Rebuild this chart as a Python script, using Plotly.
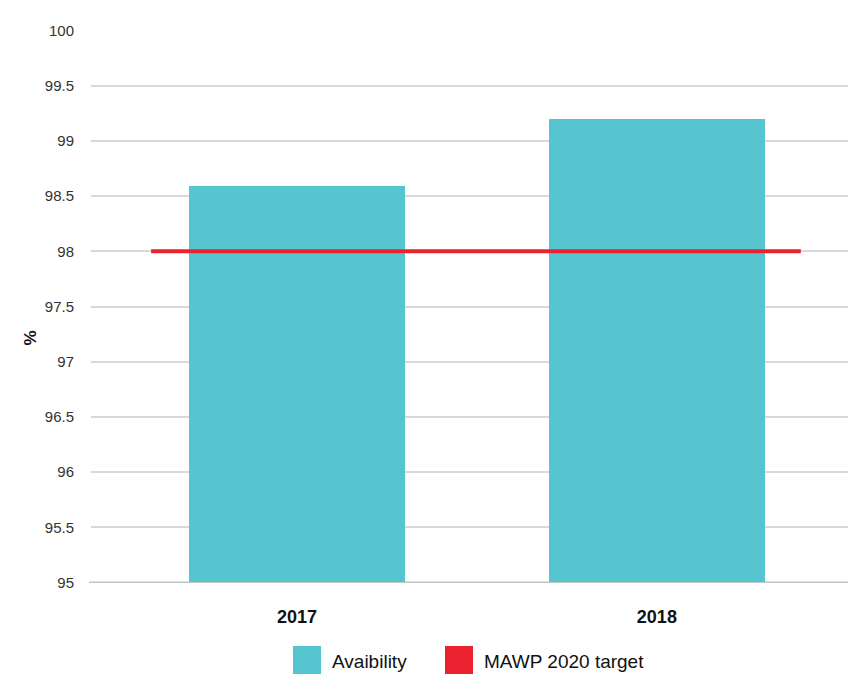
"""Availability bar chart with MAWP 2020 target line"""

import plotly.graph_objects as go

years = ["2017", "2018"]
availability = [98.59, 99.2]
target = 98.0
y_ticks = [95, 95.5, 96, 96.5, 97, 97.5, 98, 98.5, 99, 99.5, 100]
y_tick_labels = ["95", "95.5", "96", "96.5", "97", "97.5", "98", "98.5", "99", "99.5", "100"]
legend_names = ["Avaibility", "MAWP 2020 target"]

BAR_COLOR = "#56c5cf"
TARGET_COLOR = "#ec2130"
FONT = "Liberation Sans, Arial, sans-serif"

W, H = 848, 675
L, R, T, B = 91, 0, 30, 675 - 583
pos = list(range(len(years)))


def px_x(x):
    # window pixel -> paper coordinate (horizontal)
    return (x - L) / (W - L - R)


def px_y(y):
    return (H - B - y) / (H - T - B)


fig = go.Figure()

fig.add_trace(go.Bar(
    x=pos, y=[v - 95 for v in availability], base=95,
    width=0.6, name=legend_names[0], showlegend=False,
    marker=dict(color=BAR_COLOR, line=dict(width=0)),
))

# target line stretches a bit past the bars on each side
fig.add_trace(go.Scatter(
    x=[pos[0] - 0.405, pos[-1] + 0.4], y=[target, target],
    mode="lines", name=legend_names[1], showlegend=False,
    line=dict(color=TARGET_COLOR, width=4),
))

# baseline at the bottom of the y range
fig.add_shape(type="line", xref="paper", yref="y", x0=px_x(89), x1=1, y0=95, y1=95,
              line=dict(color="#c4c4c4", width=2), layer="below")

# y axis title
fig.add_annotation(text="<b>%</b>", textangle=-90, xref="paper", yref="paper",
                   x=px_x(18), y=px_y(338), showarrow=False,
                   font=dict(size=17, color="#111", family=FONT))

# legend drawn by hand so both entries get big squares
legend_items = [(293, legend_names[0], BAR_COLOR), (445, legend_names[1], TARGET_COLOR)]
for x0, name, color in legend_items:
    fig.add_shape(type="rect", xref="paper", yref="paper",
                  x0=px_x(x0), x1=px_x(x0 + 28), y0=px_y(646), y1=px_y(674),
                  fillcolor=color, line=dict(width=0))
    fig.add_annotation(text=name, xref="paper", yref="paper",
                       x=px_x(x0 + 37), y=px_y(661), xanchor="left", yanchor="middle",
                       showarrow=False, font=dict(size=19, color="#111", family=FONT))

fig.update_layout(
    width=W, height=H,
    margin=dict(l=L, r=R, t=T, b=B),
    plot_bgcolor="white", paper_bgcolor="white",
    font=dict(family=FONT, color="#222"),
    bargap=0,
    showlegend=False,
)

fig.update_xaxes(
    range=[-0.572, 1.531], automargin=False,
    tickvals=pos, ticktext=["<b>%s</b>" % y for y in years],
    tickfont=dict(size=18, color="#111"),
    showgrid=False, zeroline=False, showline=False,
    ticks="outside", ticklen=17, tickcolor="rgba(0,0,0,0)",
)

fig.update_yaxes(
    range=[94.995, 100.005], automargin=False,
    tickvals=y_ticks, ticktext=y_tick_labels,
    tickfont=dict(size=15, color="#333"),
    showgrid=True, gridcolor="#d9d9d9", gridwidth=1.5,
    zeroline=False, showline=False,
    ticks="outside", ticklen=13, tickcolor="rgba(0,0,0,0)",
)

# drop the browser's default body margin so the figure fills the window
fig.write_html("out.html", config={"displayModeBar": False},
               post_script="document.body.style.margin='0';"
                           "document.body.style.overflow='hidden';")
